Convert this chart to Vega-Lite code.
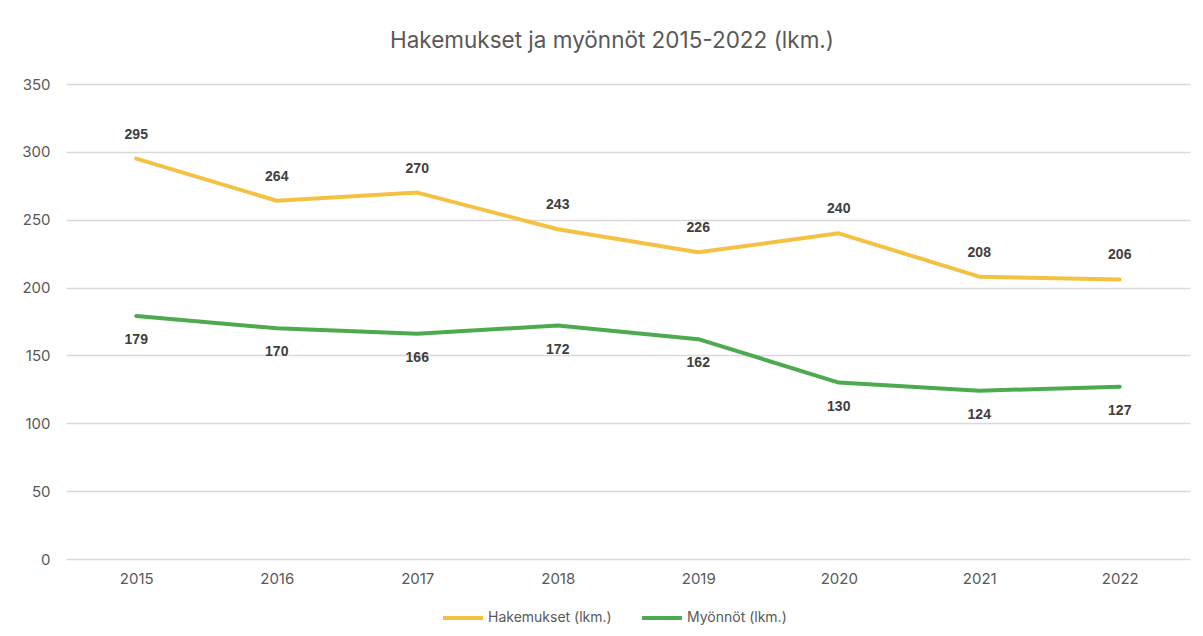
{
  "$schema": "https://vega.github.io/schema/vega-lite/v6.json",
  "autosize": {"type": "none"},
  "width": 1124,
  "height": 475,
  "padding": {"left": 66, "top": 84, "right": 13, "bottom": 77},
  "background": "white",
  "title": {
    "text": "Hakemukset ja myönnöt 2015-2022 (lkm.)",
    "anchor": "middle",
    "font": "Inter",
    "fontSize": 22.5,
    "fontWeight": "normal",
    "color": "#595959",
    "offset": 25,
    "dx": -16
  },
  "data": {
    "values": [
      {"year": "2015", "series": "Hakemukset (lkm.)", "value": 295},
      {"year": "2016", "series": "Hakemukset (lkm.)", "value": 264},
      {"year": "2017", "series": "Hakemukset (lkm.)", "value": 270},
      {"year": "2018", "series": "Hakemukset (lkm.)", "value": 243},
      {"year": "2019", "series": "Hakemukset (lkm.)", "value": 226},
      {"year": "2020", "series": "Hakemukset (lkm.)", "value": 240},
      {"year": "2021", "series": "Hakemukset (lkm.)", "value": 208},
      {"year": "2022", "series": "Hakemukset (lkm.)", "value": 206},
      {"year": "2015", "series": "Myönnöt (lkm.)", "value": 179},
      {"year": "2016", "series": "Myönnöt (lkm.)", "value": 170},
      {"year": "2017", "series": "Myönnöt (lkm.)", "value": 166},
      {"year": "2018", "series": "Myönnöt (lkm.)", "value": 172},
      {"year": "2019", "series": "Myönnöt (lkm.)", "value": 162},
      {"year": "2020", "series": "Myönnöt (lkm.)", "value": 130},
      {"year": "2021", "series": "Myönnöt (lkm.)", "value": 124},
      {"year": "2022", "series": "Myönnöt (lkm.)", "value": 127}
    ]
  },
  "encoding": {
    "x": {
      "field": "year",
      "type": "ordinal",
      "scale": {"type": "point", "padding": 0.5},
      "axis": {
        "title": null,
        "labelAngle": 0,
        "domain": false,
        "ticks": false,
        "grid": false,
        "labelPadding": 12,
        "labelFont": "Inter",
        "labelFontSize": 15,
        "labelColor": "#595959"
      }
    },
    "y": {
      "field": "value",
      "type": "quantitative",
      "scale": {"domain": [0, 350]},
      "axis": {
        "title": null,
        "values": [0, 50, 100, 150, 200, 250, 300, 350],
        "domain": false,
        "ticks": false,
        "gridColor": "#D9D9D9",
        "gridWidth": 1.5,
        "labelPadding": 16,
        "labelFont": "Inter",
        "labelFontSize": 15,
        "labelColor": "#595959"
      }
    }
  },
  "layer": [
    {
      "mark": {"type": "line", "strokeWidth": 4, "strokeCap": "round", "strokeJoin": "round"},
      "encoding": {
        "color": {
          "field": "series",
          "type": "nominal",
          "scale": {
            "domain": ["Hakemukset (lkm.)", "Myönnöt (lkm.)"],
            "range": ["#F5C142", "#4EAA4E"]
          },
          "legend": {
            "title": null,
            "orient": "none",
            "legendX": 375,
            "legendY": 512,
            "direction": "horizontal",
            "symbolType": "stroke",
            "symbolSize": 1600,
            "symbolStrokeWidth": 4,
            "labelFont": "Inter",
            "labelFontSize": 14,
            "labelColor": "#595959",
            "labelOffset": 3,
            "columnPadding": 22
          }
        }
      }
    },
    {
      "transform": [{"filter": "datum.series === 'Hakemukset (lkm.)'"}],
      "mark": {"type": "text", "dy": -24, "font": "Liberation Sans", "fontSize": 14, "fontWeight": "bold", "color": "#404040"},
      "encoding": {"text": {"field": "value", "type": "quantitative"}}
    },
    {
      "transform": [{"filter": "datum.series === 'Myönnöt (lkm.)'"}],
      "mark": {"type": "text", "dy": 24, "font": "Liberation Sans", "fontSize": 14, "fontWeight": "bold", "color": "#404040"},
      "encoding": {"text": {"field": "value", "type": "quantitative"}}
    }
  ],
  "config": {"view": {"stroke": null}}
}
